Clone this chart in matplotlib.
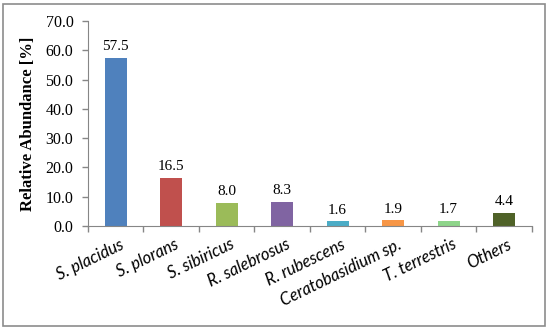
import matplotlib
matplotlib.use("Agg")
import matplotlib.pyplot as plt
from matplotlib.patches import Rectangle

species = ["S. placidus", "S. plorans", "S. sibiricus", "R. salebrosus",
           "R. rubescens", "Ceratobasidium sp.", "T. terrestris", "Others"]
abundance = [57.5, 16.5, 8.0, 8.3, 1.6, 1.9, 1.7, 4.4]
colors = ["#4F81BD", "#C0504D", "#9BBB59", "#8064A2",
          "#4BACC6", "#F79646", "#8ED58A", "#4F6228"]
yticks = [0, 10, 20, 30, 40, 50, 60, 70]

SERIF = "Liberation Serif"
AXC = "#868686"

fig = plt.figure(figsize=(5.5, 3.3), dpi=100)
fig.patch.set_facecolor("white")
fig.add_artist(Rectangle((0.006, 0.012), 0.985, 0.976, transform=fig.transFigure,
                         fill=False, edgecolor="#8c8c8c", lw=1.2))

# axes box: x 88..532 px, y 21..226 px
ax = fig.add_axes([0.16, 0.315, 0.807, 0.621])
x = range(len(species))
bars = ax.bar(x, abundance, width=0.4, color=colors)
for b, v in zip(bars, abundance):
    ax.text(b.get_x() + b.get_width() / 2, v + 1.6, f"{v:.1f}", ha="center",
            va="bottom", fontsize=11, family=SERIF)

ax.set_xlim(-0.5, len(species) - 0.5)
ax.set_ylim(0, 70)
ax.set_yticks(yticks)
ax.set_yticklabels([f"{t:.1f}" for t in yticks], family=SERIF, fontsize=11.5)
ax.set_xticks([i - 0.5 for i in range(len(species) + 1)])
ax.set_xticklabels([])
ax.tick_params(axis="both", direction="out", length=4.5, color=AXC, width=1)
ax.tick_params(axis="y", pad=6)
# Calibri-like italic labels, Lato is the closest installed face
for i, name in enumerate(species):
    ax.text(i + 0.06, -3.5, name, rotation=26, ha="right", va="top",
            rotation_mode="anchor", fontsize=12, style="italic", family="Lato")

for s in ["top", "right"]:
    ax.spines[s].set_visible(False)
for s in ["left", "bottom"]:
    ax.spines[s].set_color(AXC)
ax.set_ylabel("Relative Abundance [%]", family=SERIF, fontweight="bold",
              fontsize=12)
ax.yaxis.set_label_coords(-0.117, 0.5)

fig.savefig("out.png", dpi=100)
